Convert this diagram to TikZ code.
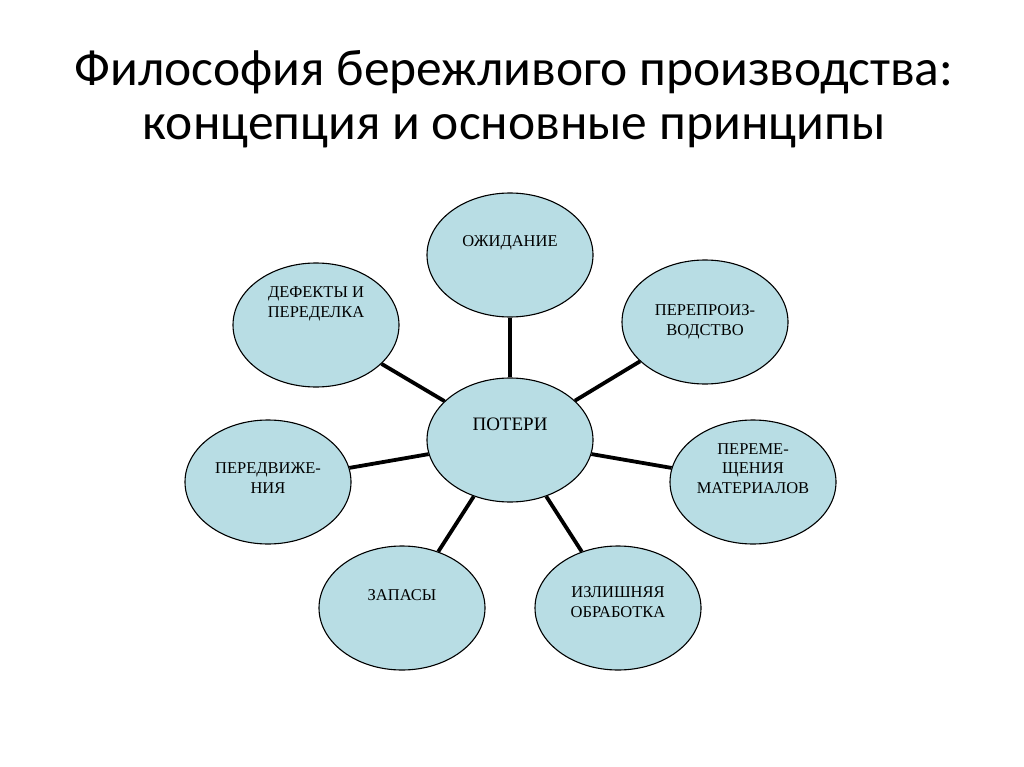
\documentclass[tikz,border=0pt]{standalone}
\usepackage{fontspec}
\setmainfont{Liberation Serif}
\newfontfamily\titlefont{Carlito}
\usetikzlibrary{shapes.geometric,calc}
\definecolor{blobfill}{RGB}{184,221,228}
\begin{document}
\begin{tikzpicture}[x=1pt,y=-1pt,
  blob/.style={ellipse,draw=black,line width=1.1pt,fill=blobfill,minimum width=166pt,minimum height=124pt,inner sep=0pt},
  lbl/.style={align=center,anchor=base,inner sep=0pt,font=\fontsize{16.5}{19.3}\selectfont},
  conn/.style={line width=3.8pt,black},
  ttl/.style={align=center,anchor=base,inner sep=0pt,font=\titlefont\fontsize{51.5}{54}\selectfont}]
\useasboundingbox[fill=white] (0,0) rectangle (1024,767);
\node[ttl] (title) at (514,140) {Философия бережливого производства:\\концепция и основные принципы};

\node[blob] (pot) at (510,440) {};
\node[blob] (ozh) at (510,255) {};
\node[blob] (per) at (705,322) {};
\node[blob] (def) at (316,325) {};
\node[blob] (pdv) at (268,482) {};
\node[blob] (pmt) at (753,482) {};
\node[blob] (zap) at (402,608) {};
\node[blob] (izl) at (618,608) {};

\draw[conn] (pot) -- (ozh);
\draw[conn] (pot) -- (per);
\draw[conn] (pot) -- (def);
\draw[conn] (pot) -- (pdv);
\draw[conn] (pot) -- (pmt);
\draw[conn] (pot) -- (zap);
\draw[conn] (pot) -- (izl);

\node[lbl,font=\fontsize{19}{22}\selectfont] (potT) at (510,430) {ПОТЕРИ};
\node[lbl] (ozhT) at (510,247) {ОЖИДАНИЕ};
\node[lbl] (perT) at (705,335) {ПЕРЕПРОИЗ-\\ВОДСТВО};
\node[lbl] (defT) at (316,317) {ДЕФЕКТЫ И\\ПЕРЕДЕЛКА};
\node[lbl] (pdvT) at (268,493) {ПЕРЕДВИЖЕ-\\НИЯ};
\node[lbl] (pmtT) at (753,493) {ПЕРЕМЕ-\\ЩЕНИЯ\\МАТЕРИАЛОВ};
\node[lbl] (zapT) at (402,600) {ЗАПАСЫ};
\node[lbl] (izlT) at (618,617) {ИЗЛИШНЯЯ\\ОБРАБОТКА};
\end{tikzpicture}
\end{document}
